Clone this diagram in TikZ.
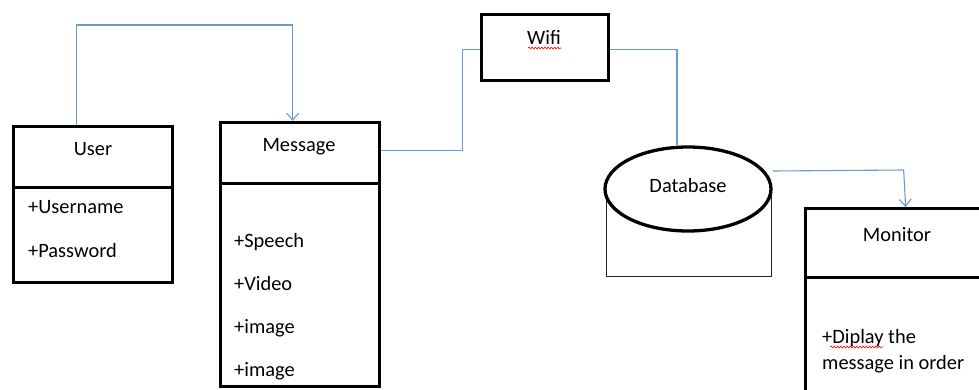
\documentclass[tikz,border=0pt]{standalone}
\usepackage{fontspec}
\setmainfont{Carlito}
\usetikzlibrary{arrows.meta,shapes.geometric,decorations.pathmorphing}
\definecolor{linkblue}{HTML}{6A9AD4}
\tikzset{
  box/.style={draw=black, line width=3.3pt, inner sep=0pt, anchor=north west},
  lbl/.style={inner sep=0pt, anchor=base, font=\fontsize{20.4}{24}\selectfont},
  attr/.style={inner sep=0pt, anchor=base west, font=\fontsize{20.4}{24}\selectfont},
  link/.style={draw=linkblue, line width=1.1pt},
  linkarrow/.style={link, -{Straight Barb[length=7pt,width=12pt,line width=1.1pt]}},
  typo/.style={draw=red, line width=0.6pt, decorate, decoration={snake, amplitude=0.9pt, segment length=3.2pt}}
}
\begin{document}
\begin{tikzpicture}[x=1pt, y=-1pt]
\useasboundingbox (0,0) rectangle (979,389);
\clip (0,0) rectangle (979,389);
\fill[white] (0,0) rectangle (979,389);

% User class
\node[box, minimum width=159pt, minimum height=61pt] (userhead) at (12,125) {};
\node[box, minimum width=159pt, minimum height=95pt] (userbody) at (12,186) {};
\node[lbl] (usertitle) at (93,155) {User};
\node[attr] (uname) at (28,213) {+Username};
\node[attr] (upass) at (28,257) {+Password};

% Message class
\node[box, minimum width=159pt, minimum height=61pt] (msghead) at (219,121) {};
\node[box, minimum width=159pt, minimum height=203pt] (msgbody) at (219,182) {};
\node[lbl] (msgtitle) at (299,151) {Message};
\node[attr] (mspeech) at (234,247) {+Speech};
\node[attr] (mvideo) at (234,290) {+Video};
\node[attr] (mimga) at (234,333) {+image};
\node[attr] (mimgb) at (234,376) {+image};

% Wifi
\node[box, minimum width=127pt, minimum height=66pt] (wifi) at (480,13) {};
\node[lbl] (wifititle) at (544,44) {Wifi};
\draw[typo] (528,48) -- (561,48);

% Database
\draw[line width=1pt, draw=black!85] (606,190) rectangle (771,276);
\node[draw=black, line width=3.3pt, fill=white, ellipse, inner sep=0pt,
      minimum width=166pt, minimum height=84pt] (db) at (688,189) {};
\node[lbl] (dbtitle) at (688,192) {Database};

% Monitor class
\node[box, minimum width=190pt, minimum height=69pt] (monhead) at (804,207) {};
\node[box, minimum width=190pt, minimum height=130pt] (monbody) at (804,276) {};
\node[lbl] (montitle) at (897,241) {Monitor};
\node[attr] (monl1) at (822,343) {+Diplay the};
\node[attr] (monl2) at (822,369) {message in order};
\draw[typo] (830,347) -- (883,347);

% Connectors
\draw[linkarrow] ([xshift=-16.5pt]userhead.north) -- ++(0,-100) -| ([xshift=-7.5pt]msghead.north);
\draw[link] ([yshift=2.5pt]msghead.east) -- ++(81,0) |- ([yshift=-2pt]wifi.west);
\draw[link] ([yshift=-2pt]wifi.east) -| ([xshift=-11pt]db.north);
\draw[linkarrow] ([yshift=18pt]db.east) -- ++(131,-1) -- ([xshift=5pt]monhead.north);
\end{tikzpicture}
\end{document}
